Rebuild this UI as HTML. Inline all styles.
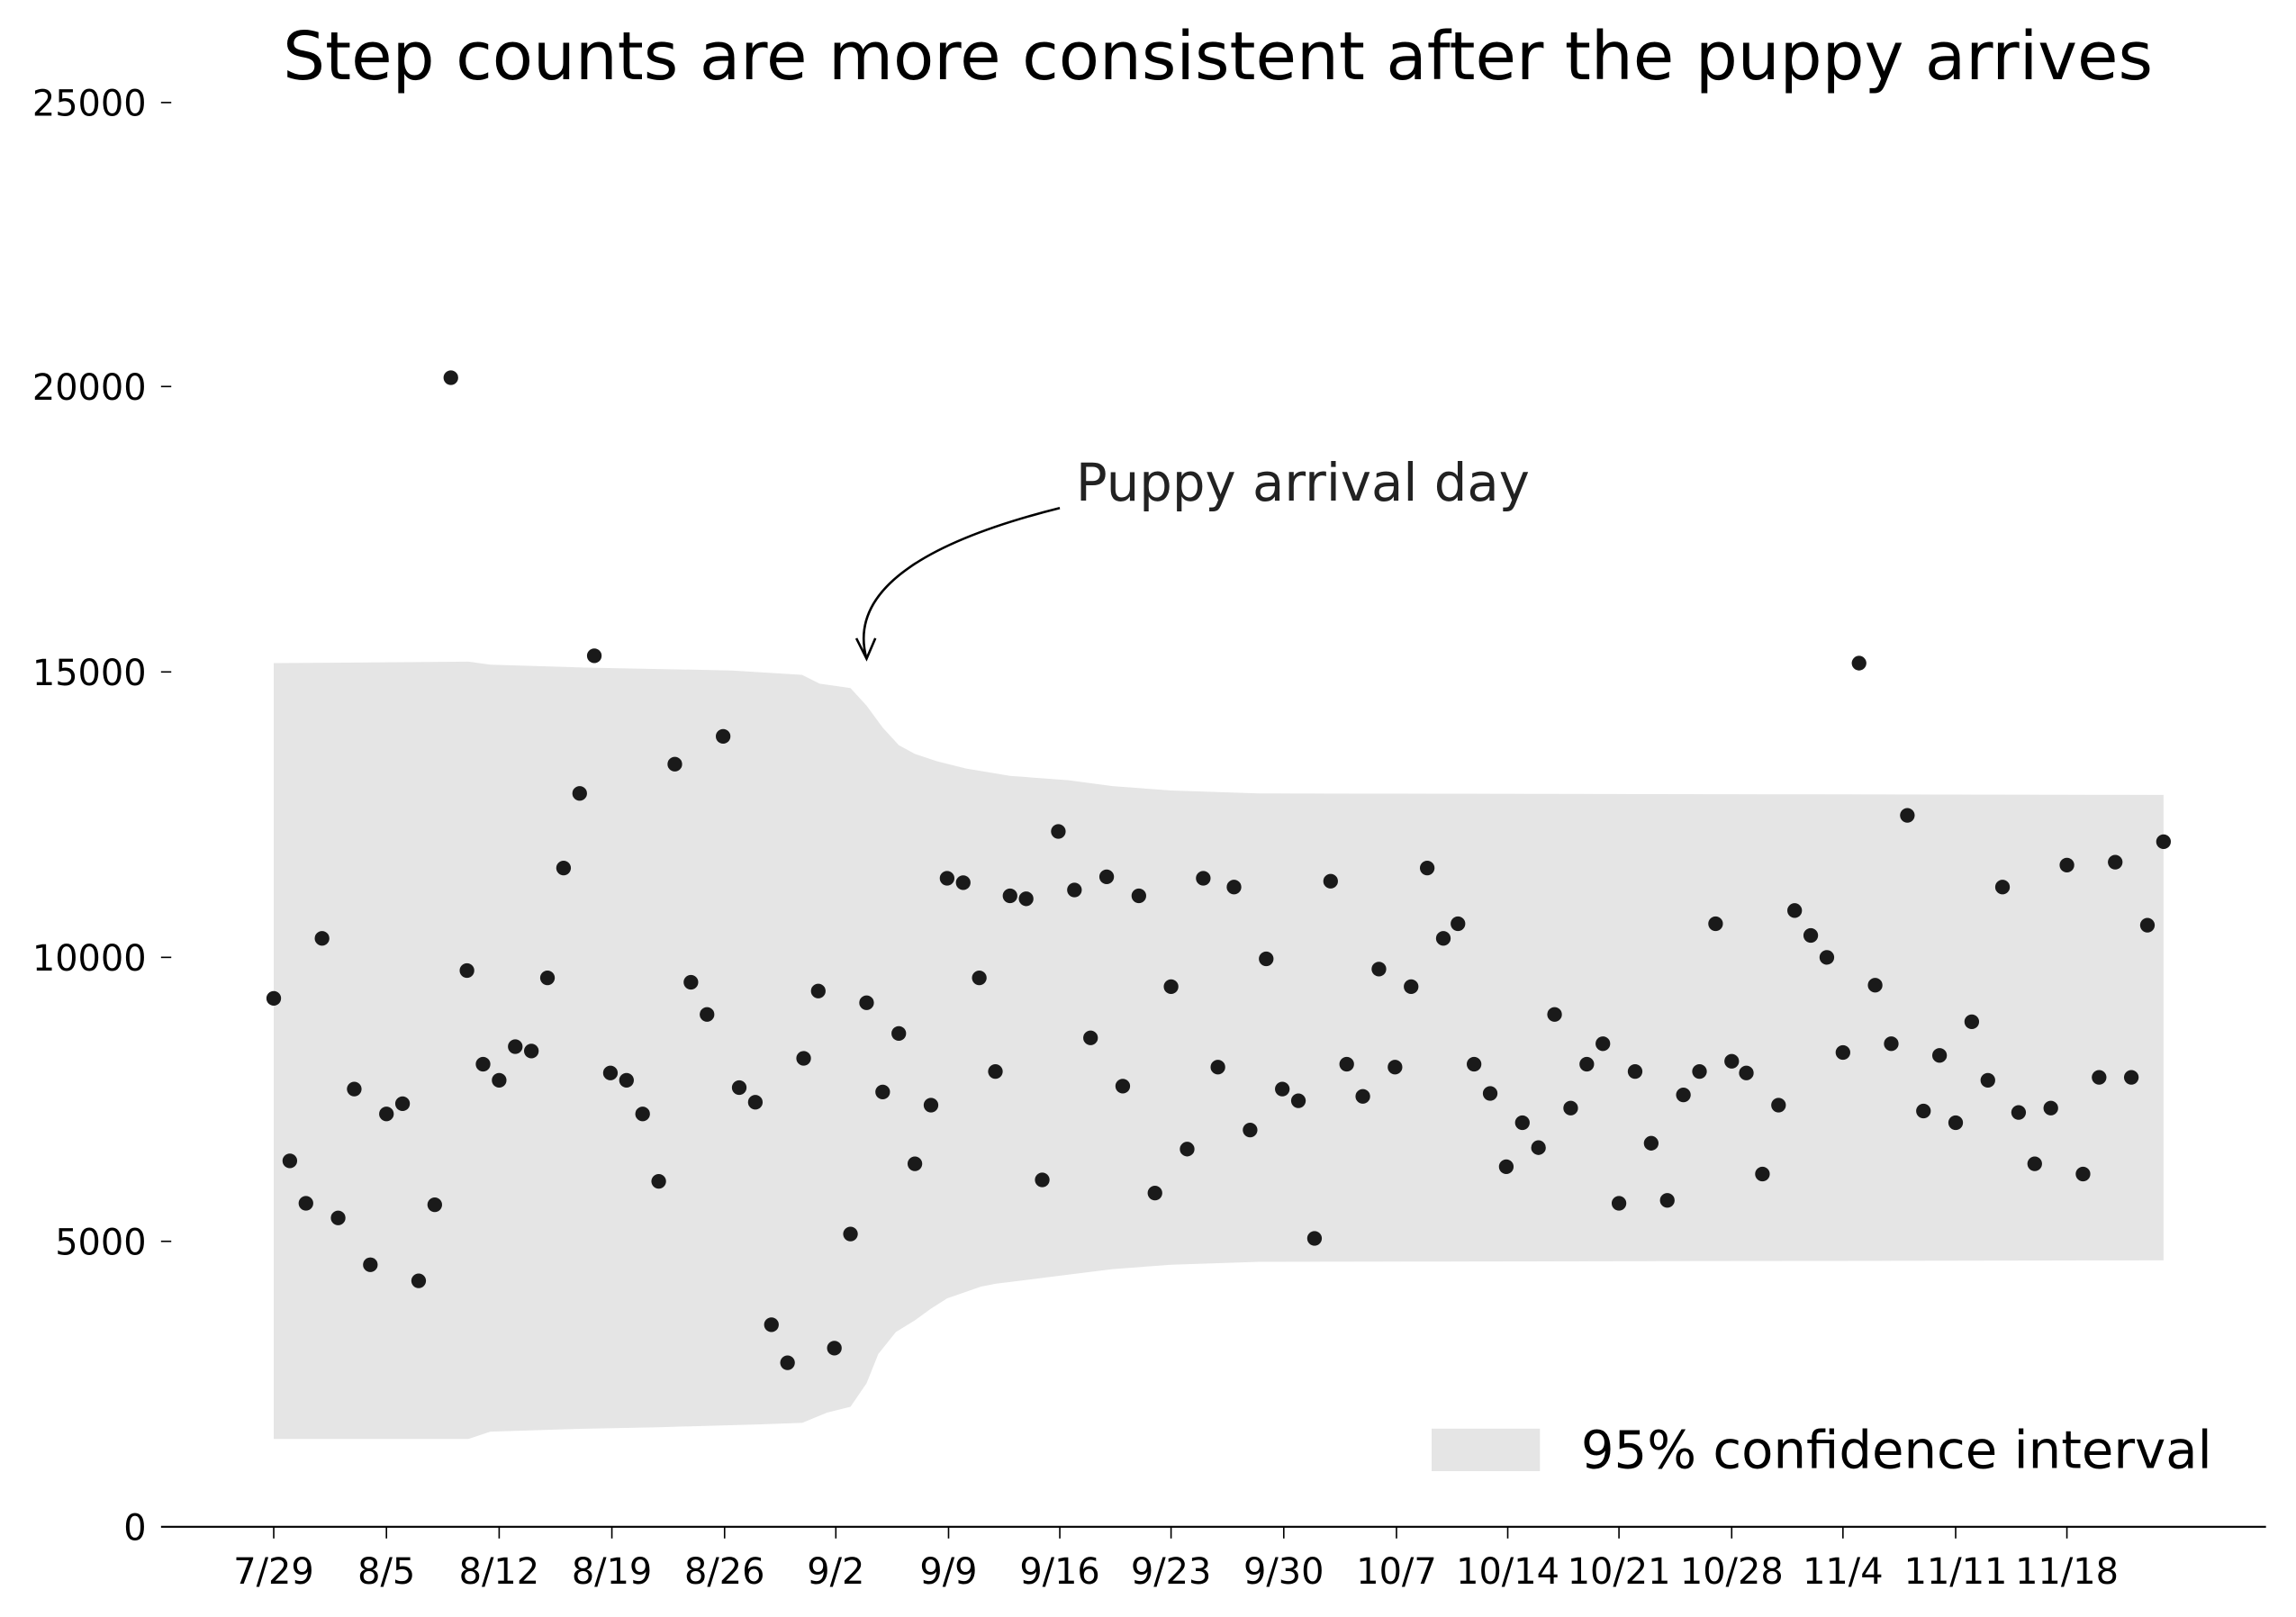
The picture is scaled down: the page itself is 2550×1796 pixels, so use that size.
<!DOCTYPE html>
<html><head><meta charset="utf-8"><style>
html,body{margin:0;padding:0;background:#fff;}
svg{display:block;}
text{font-family:"DejaVu Sans","Liberation Sans",sans-serif;}
</style></head><body>
<svg width="2550" height="1796" viewBox="0 0 1568.5 1104.6" xmlns="http://www.w3.org/2000/svg">
<rect width="1570" height="1106" fill="#fff"/>
<path fill="#e5e5e5" d="M187,453 L320,452 L335,454 L400,456 L450,457 L500,458 L548,461 L560,467 L581,470 L592,482 L603,497 L614,509 L625,515 L640,520 L660,525 L690,530 L730,533 L760,537 L800,540 L860,542 L1478,543 L1478,861 L860,862 L800,864 L760,867 L720,872 L680,877 L670,879 L647,887 L636,894 L625,902 L612,910 L600,925 L592,945 L581,961 L565,965 L548,972 L520,973 L450,975 L400,976 L335,978 L320,983 L187,983 Z"/>
<g fill="#1a1a1a">
<circle cx="187" cy="682" r="5"/><circle cx="198" cy="793" r="5"/><circle cx="209" cy="822" r="5"/><circle cx="220" cy="641" r="5"/><circle cx="231" cy="832" r="5"/><circle cx="242" cy="744" r="5"/><circle cx="253" cy="864" r="5"/><circle cx="264" cy="761" r="5"/><circle cx="275" cy="754" r="5"/><circle cx="286" cy="875" r="5"/><circle cx="297" cy="823" r="5"/><circle cx="308" cy="258" r="5"/><circle cx="319" cy="663" r="5"/><circle cx="330" cy="727" r="5"/><circle cx="341" cy="738" r="5"/><circle cx="352" cy="715" r="5"/><circle cx="363" cy="718" r="5"/><circle cx="374" cy="668" r="5"/><circle cx="385" cy="593" r="5"/><circle cx="396" cy="542" r="5"/><circle cx="406" cy="448" r="5"/><circle cx="417" cy="733" r="5"/><circle cx="428" cy="738" r="5"/><circle cx="439" cy="761" r="5"/><circle cx="450" cy="807" r="5"/><circle cx="461" cy="522" r="5"/><circle cx="472" cy="671" r="5"/><circle cx="483" cy="693" r="5"/><circle cx="494" cy="503" r="5"/><circle cx="505" cy="743" r="5"/><circle cx="516" cy="753" r="5"/><circle cx="527" cy="905" r="5"/><circle cx="538" cy="931" r="5"/><circle cx="549" cy="723" r="5"/><circle cx="559" cy="677" r="5"/><circle cx="570" cy="921" r="5"/><circle cx="581" cy="843" r="5"/><circle cx="592" cy="685" r="5"/><circle cx="603" cy="746" r="5"/><circle cx="614" cy="706" r="5"/><circle cx="625" cy="795" r="5"/><circle cx="636" cy="755" r="5"/><circle cx="647" cy="600" r="5"/><circle cx="658" cy="603" r="5"/><circle cx="669" cy="668" r="5"/><circle cx="680" cy="732" r="5"/><circle cx="690" cy="612" r="5"/><circle cx="701" cy="614" r="5"/><circle cx="712" cy="806" r="5"/><circle cx="723" cy="568" r="5"/><circle cx="734" cy="608" r="5"/><circle cx="745" cy="709" r="5"/><circle cx="756" cy="599" r="5"/><circle cx="767" cy="742" r="5"/><circle cx="778" cy="612" r="5"/><circle cx="789" cy="815" r="5"/><circle cx="800" cy="674" r="5"/><circle cx="811" cy="785" r="5"/><circle cx="822" cy="600" r="5"/><circle cx="832" cy="729" r="5"/><circle cx="843" cy="606" r="5"/><circle cx="854" cy="772" r="5"/><circle cx="865" cy="655" r="5"/><circle cx="876" cy="744" r="5"/><circle cx="887" cy="752" r="5"/><circle cx="898" cy="846" r="5"/><circle cx="909" cy="602" r="5"/><circle cx="920" cy="727" r="5"/><circle cx="931" cy="749" r="5"/><circle cx="942" cy="662" r="5"/><circle cx="953" cy="729" r="5"/><circle cx="964" cy="674" r="5"/><circle cx="975" cy="593" r="5"/><circle cx="986" cy="641" r="5"/><circle cx="996" cy="631" r="5"/><circle cx="1007" cy="727" r="5"/><circle cx="1018" cy="747" r="5"/><circle cx="1029" cy="797" r="5"/><circle cx="1040" cy="767" r="5"/><circle cx="1051" cy="784" r="5"/><circle cx="1062" cy="693" r="5"/><circle cx="1073" cy="757" r="5"/><circle cx="1084" cy="727" r="5"/><circle cx="1095" cy="713" r="5"/><circle cx="1106" cy="822" r="5"/><circle cx="1117" cy="732" r="5"/><circle cx="1128" cy="781" r="5"/><circle cx="1139" cy="820" r="5"/><circle cx="1150" cy="748" r="5"/><circle cx="1161" cy="732" r="5"/><circle cx="1172" cy="631" r="5"/><circle cx="1183" cy="725" r="5"/><circle cx="1193" cy="733" r="5"/><circle cx="1204" cy="802" r="5"/><circle cx="1215" cy="755" r="5"/><circle cx="1226" cy="622" r="5"/><circle cx="1237" cy="639" r="5"/><circle cx="1248" cy="654" r="5"/><circle cx="1259" cy="719" r="5"/><circle cx="1270" cy="453" r="5"/><circle cx="1281" cy="673" r="5"/><circle cx="1292" cy="713" r="5"/><circle cx="1303" cy="557" r="5"/><circle cx="1314" cy="759" r="5"/><circle cx="1325" cy="721" r="5"/><circle cx="1336" cy="767" r="5"/><circle cx="1347" cy="698" r="5"/><circle cx="1358" cy="738" r="5"/><circle cx="1368" cy="606" r="5"/><circle cx="1379" cy="760" r="5"/><circle cx="1390" cy="795" r="5"/><circle cx="1401" cy="757" r="5"/><circle cx="1412" cy="591" r="5"/><circle cx="1423" cy="802" r="5"/><circle cx="1434" cy="736" r="5"/><circle cx="1445" cy="589" r="5"/><circle cx="1456" cy="736" r="5"/><circle cx="1467" cy="632" r="5"/><circle cx="1478" cy="575" r="5"/>
</g>
<line x1="110" y1="1043" x2="1548" y2="1043" stroke="#000" stroke-width="1.3"/>
<g stroke="#000" stroke-width="1">
<line x1="187" y1="1043" x2="187" y2="1051"/><line x1="264" y1="1043" x2="264" y2="1051"/><line x1="341" y1="1043" x2="341" y2="1051"/><line x1="418" y1="1043" x2="418" y2="1051"/><line x1="495" y1="1043" x2="495" y2="1051"/><line x1="571" y1="1043" x2="571" y2="1051"/><line x1="648" y1="1043" x2="648" y2="1051"/><line x1="724" y1="1043" x2="724" y2="1051"/><line x1="800" y1="1043" x2="800" y2="1051"/><line x1="877" y1="1043" x2="877" y2="1051"/><line x1="954" y1="1043" x2="954" y2="1051"/><line x1="1030" y1="1043" x2="1030" y2="1051"/><line x1="1106" y1="1043" x2="1106" y2="1051"/><line x1="1183" y1="1043" x2="1183" y2="1051"/><line x1="1259" y1="1043" x2="1259" y2="1051"/><line x1="1336" y1="1043" x2="1336" y2="1051"/><line x1="1412" y1="1043" x2="1412" y2="1051"/>
<line x1="110" y1="70" x2="117" y2="70"/><line x1="110" y1="264" x2="117" y2="264"/><line x1="110" y1="459" x2="117" y2="459"/><line x1="110" y1="654" x2="117" y2="654"/><line x1="110" y1="848" x2="117" y2="848"/>
</g>
<g font-size="24.5" fill="#000" text-anchor="middle">
<text x="187" y="1082">7/29</text><text x="264" y="1082">8/5</text><text x="341" y="1082">8/12</text><text x="418" y="1082">8/19</text><text x="495" y="1082">8/26</text><text x="571" y="1082">9/2</text><text x="648" y="1082">9/9</text><text x="724" y="1082">9/16</text><text x="800" y="1082">9/23</text><text x="877" y="1082">9/30</text><text x="954" y="1082">10/7</text><text x="1030" y="1082">10/14</text><text x="1106" y="1082">10/21</text><text x="1183" y="1082">10/28</text><text x="1259" y="1082">11/4</text><text x="1336" y="1082">11/11</text><text x="1412" y="1082">11/18</text>
</g>
<g font-size="24.5" fill="#000" text-anchor="end">
<text x="100" y="79">25000</text><text x="100" y="273">20000</text><text x="100" y="468">15000</text><text x="100" y="663">10000</text><text x="100" y="857">5000</text><text x="100" y="1052">0</text>
</g>
<text x="832" y="54" font-size="45.5" text-anchor="middle" fill="#000">Step counts are more consistent after the puppy arrives</text>
<text x="735" y="342" font-size="35.5" fill="#222">Puppy arrival day</text>
<path d="M724,347 C640,368 578,400 592,450" fill="none" stroke="#000" stroke-width="1.6"/>
<path d="M585,436 L592,450 L598,436" fill="none" stroke="#000" stroke-width="1.6"/>
<rect x="978" y="976" width="74" height="29" fill="#e5e5e5"/>
<text x="1080" y="1003" font-size="35.5" fill="#000">95% confidence interval</text>
</svg>
</body></html>
